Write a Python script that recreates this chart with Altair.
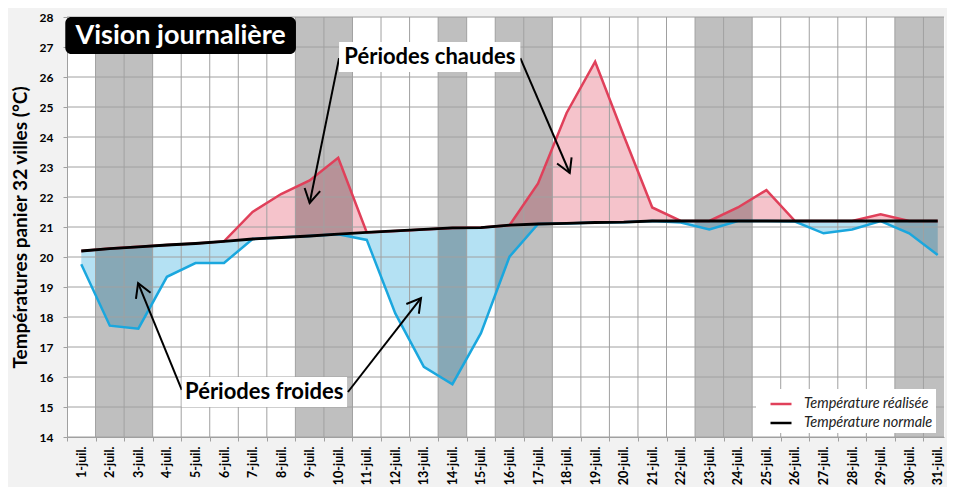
import json
import math
import altair as alt
import pandas as pd

# ---------------- data ----------------
days = list(range(1, 32))
day_labels = [f"{d}-juil." for d in days]
temp_realisee = [19.76, 17.71, 17.61, 19.34, 19.80, 19.80, 21.50, 22.10, 22.55, 23.31,
                 20.57, 18.12, 16.34, 15.76, 17.46, 20.01, 22.45, 24.80, 26.51, 24.05,
                 21.65, 21.15, 20.92, 21.65, 22.23, 21.18, 20.79, 20.92, 21.42, 20.79,
                 20.07]
temp_normale = [20.20, 20.28, 20.34, 20.40, 20.45, 20.52, 20.60, 20.65, 20.70, 20.76,
                20.82, 20.87, 20.92, 20.97, 20.98, 21.06, 21.10, 21.12, 21.15, 21.16,
                21.20, 21.20, 21.20, 21.20, 21.20, 21.20, 21.20, 21.20, 21.20, 21.20,
                21.20]
jours_gris = [2, 3, 9, 10, 14, 16, 17, 23, 24, 30, 31]
y_ticks = list(range(14, 29))

serie_names = ["Température réalisée", "Température normale"]
titre = "Vision journalière"
y_title = "Températures panier 32 villes (°C)"

# annotations (data coordinates: day, °C)
arrow_x1 = [10.03, 16.38, 4.52, 10.34]
arrow_y1 = [26.63, 26.63, 15.57, 15.50]
arrow_x2 = [9.00, 18.11, 2.99, 12.90]
arrow_y2 = [21.80, 22.80, 19.13, 18.63]

box_labels = ["Périodes chaudes", "Périodes froides"]
box_x1 = [10.03, 4.52]
box_x2 = [16.38, 10.31]
box_y1 = [26.17, 15.00]
box_y2 = [27.17, 16.00]
box_tx = [13.21, 7.41]
box_ty = [26.67, 15.50]

title_box = {"x1": 0.44, "x2": 8.52, "y1": 26.77, "y2": 28.0, "tx": 4.48, "ty": 27.38}

# ---------------- layout ----------------
W = 877
H = 420
X_DOMAIN = [0.5, 31.22]
Y_DOMAIN = [14, 28]
px_day = W / (X_DOMAIN[1] - X_DOMAIN[0])
px_deg = H / (Y_DOMAIN[1] - Y_DOMAIN[0])

RED = "#e0405a"
BLUE = "#1aa7de"
PINK = "#f5c3cb"
LIGHTBLUE = "#b4e1f3"
GRID = "#a0a0a0"
FONT = "Lato"

df = pd.DataFrame({"day": days, "realisee": temp_realisee, "normale": temp_normale})
grey_df = pd.DataFrame({"day": jours_gris})
ytick_df = pd.DataFrame({"v": y_ticks})

angles = []
for a, b, c, d in zip(arrow_x1, arrow_y1, arrow_x2, arrow_y2):
    dx = (c - a) * px_day
    dy = -(d - b) * px_deg
    angles.append(math.degrees(math.atan2(dx, -dy)) % 360)
arr_df = pd.DataFrame({"x1": arrow_x1, "y1": arrow_y1, "x2": arrow_x2, "y2": arrow_y2,
                       "angle": angles})
box_df = pd.DataFrame({"x1": box_x1, "x2": box_x2, "y1": box_y1, "y2": box_y2,
                       "tx": box_tx, "ty": box_ty, "label": box_labels})
tbox_df = pd.DataFrame([dict(title_box, label=titre)])

x_scale = alt.Scale(domain=X_DOMAIN, nice=False, zero=False)
y_scale = alt.Scale(domain=Y_DOMAIN, nice=False, zero=False)

label_expr = json.dumps(day_labels, ensure_ascii=False) + "[datum.value - 1]"

x_axis = alt.Axis(values=days, labelExpr=label_expr, grid=False,
                  tickOffset=-px_day / 2, labelOffset=px_day / 2,
                  labelAngle=270, labelAlign="right", labelBaseline="middle",
                  labelFont=FONT, labelFontWeight="bold", labelFontSize=12.5,
                  labelColor="black", labelPadding=5, labelOverlap=False,
                  labelFlush=False, tickSize=4, tickColor=GRID, domainColor=GRID,
                  title=None)
y_axis = alt.Axis(values=y_ticks, grid=False, tickSize=4, tickColor=GRID,
                  domainColor=GRID, labelFont=FONT, labelFontWeight="bold",
                  labelFontSize=12, labelColor="black", labelPadding=10,
                  title=y_title, titleFont=FONT, titleFontSize=19,
                  titleFontWeight="bold", titleColor="black", titlePadding=9)


def X(field):
    return alt.X(f"{field}:Q", scale=x_scale, axis=x_axis)


def Y(field):
    return alt.Y(f"{field}:Q", scale=y_scale, axis=y_axis)


color_enc = alt.Color("series:N",
                      scale=alt.Scale(domain=serie_names, range=[RED, "black"]),
                      legend=alt.Legend(orient="none", legendX=689, legendY=372,
                                        title=None, fillColor="white", padding=3,
                                        symbolType="stroke", symbolSize=441,
                                        symbolStrokeWidth=2.5, symbolOffset=10,
                                        labelOffset=11, labelFont=FONT,
                                        labelFontStyle="italic", labelFontSize=14.5,
                                        labelColor="#222222", rowPadding=0))

base = alt.Chart(df).transform_calculate(
    hi="max(datum.realisee, datum.normale)",
    lo="min(datum.realisee, datum.normale)",
)

pink_area = base.mark_area(color=PINK, opacity=1, clip=True).encode(
    x=X("day"), y=Y("hi"), y2="normale")
blue_area = base.mark_area(color=LIGHTBLUE, opacity=1, clip=True).encode(
    x=X("day"), y=Y("lo"), y2="normale")

grey = alt.Chart(grey_df).transform_calculate(
    a="datum.day - 0.5", b="datum.day + 0.5"
).mark_rect(color="black", opacity=0.25, clip=True).encode(x=X("a"), x2="b")

vgrid = alt.Chart(df).transform_calculate(b="datum.day - 0.5").mark_rule(
    color=GRID, strokeWidth=1, clip=True).encode(x=X("b"))
hgrid = alt.Chart(ytick_df).mark_rule(color=GRID, strokeWidth=1).encode(y=Y("v"))

red_line = base.transform_calculate(series=f"'{serie_names[0]}'").mark_line(
    strokeWidth=2.5, clip=True).encode(x=X("day"), y=Y("hi"), color=color_enc)
blue_line = base.mark_line(color=BLUE, strokeWidth=2.5, clip=True).encode(
    x=X("day"), y=Y("lo"))
black_line = base.transform_calculate(series=f"'{serie_names[1]}'").mark_line(
    strokeWidth=2.8, clip=True).encode(x=X("day"), y=Y("normale"), color=color_enc)

ARROW = "M-0.5,0.866L0,0L0.5,0.866"
arrows = alt.Chart(arr_df).mark_rule(color="black", strokeWidth=2).encode(
    x=X("x1"), y=Y("y1"), x2="x2", y2="y2")
heads = alt.Chart(arr_df).mark_point(shape=ARROW, filled=False, color="black",
                                     strokeWidth=2, size=1000, opacity=1).encode(
    x=X("x2"), y=Y("y2"), angle=alt.Angle("angle:Q", scale=None))

boxes = alt.Chart(box_df).mark_rect(color="white").encode(
    x=X("x1"), x2="x2", y=Y("y1"), y2="y2")
box_text = alt.Chart(box_df).mark_text(font=FONT, fontWeight="bold", fontSize=22,
                                       color="black", align="center",
                                       baseline="middle").encode(
    x=X("tx"), y=Y("ty"), text="label:N")

tbox = alt.Chart(tbox_df).mark_rect(color="black", cornerRadius=6).encode(
    x=X("x1"), x2="x2", y=Y("y1"), y2="y2")
tbox_text = alt.Chart(tbox_df).mark_text(font=FONT, fontWeight="bold", fontSize=27,
                                         color="white", align="center",
                                         baseline="middle").encode(
    x=X("tx"), y=Y("ty"), text="label:N")

chart = alt.layer(
    pink_area, blue_area, grey, vgrid, hgrid,
    red_line, blue_line, black_line,
    arrows, heads, boxes, box_text, tbox, tbox_text,
).properties(
    width=W, height=H,
    autosize=alt.AutoSizeParams(type="none"),
    padding={"left": 59, "top": 9, "right": 3, "bottom": 50},
    background="#f2f2f2",
).configure_view(stroke="transparent", fill="white")

chart.save("out.html", embed_options={"renderer": "svg", "actions": False})
